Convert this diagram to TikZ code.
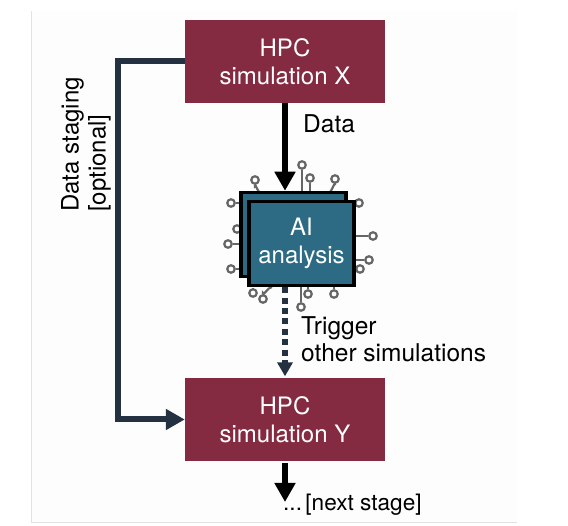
\documentclass[tikz,border=0pt]{standalone}
\usepackage{fontspec}
\setmainfont{TeX Gyre Heros}
\usetikzlibrary{positioning, arrows.meta}
\definecolor{simred}{HTML}{842B41}
\definecolor{chipblue}{HTML}{2C6B83}
\definecolor{navy}{HTML}{233140}
\definecolor{pingray}{HTML}{666666}
\definecolor{panelline}{HTML}{E2E2E2}
\definecolor{panelfill}{HTML}{FDFDFD}
\tikzset{
  simbox/.style = {fill=simred, text=white, minimum width=200pt, minimum height=83pt, align=center, inner sep=0pt},
  chipbox/.style = {draw=black, line width=3.5pt, fill=chipblue, text=white, minimum width=105pt, minimum height=84pt, align=center, inner sep=0pt},
  pinhead/.style = {circle, draw=pingray, line width=2.2pt, fill=white, minimum size=7.5pt, inner sep=0pt},
  pinline/.style = {draw=pingray, line width=2.2pt},
  label/.style = {align=left, inner sep=0pt, anchor=west, font=\fontsize{24.5}{27}\selectfont},
  bigarrow/.style = {line width=6pt, -{Triangle[length=19pt, width=20pt]}},
  stagearrow/.style = {navy, line width=6pt, -{Triangle[length=19pt, width=20pt]}},
  dotarrow/.style = {navy, line width=5.7pt, dash pattern=on 6pt off 4.4pt, shorten >=1.5pt, -{Triangle[length=14pt, width=15pt]}}
}
\begin{document}
\begin{tikzpicture}[x=1pt, y=-1pt, font=\fontsize{24}{28}\selectfont]
  \useasboundingbox (0,0) rectangle (568,526);
  \fill[panelfill] (31,11) rectangle (517,523);
  \draw[panelline, line width=1pt] (31,11) -- (31,523) -- (517,523);

  \node[simbox] (simX) at (285,61.5) {HPC\\simulation X};
  \node[simbox] (simY) at (285,419.5) {HPC\\simulation Y};

  % pins of the chip, drawn before the boxes
  \foreach \i/\px/\py/\qx/\qy in {
      1/302/165/302/200, 2/310/178/310/200, 3/231/203/250/203, 4/237/229/250/229,
      5/228/244/250/244, 6/231/269/250/269, 7/359/203/345/203, 8/373/236/345/236,
      9/369/260/345/260, 10/360/269/345/269, 11/301/307/301/280, 12/308/294/308/280,
      13/334/294/334/280} {
    \node[pinhead] (pin\i) at (\px,\py) {};
    \draw[pinline] (pin\i) -- (\qx,\qy);
  }
  \node[pinhead] (pinA) at (335,179) {};
  \draw[pinline] (pinA) -- (335,185) to[out=90, in=0] (326,195);
  \node[pinhead] (pinB) at (255,180) {};
  \draw[pinline] (pinB) -- (255,186) to[out=90, in=180] (262,194);
  \node[pinhead] (pinC) at (253,293) {};
  \draw[pinline] (pinC) -- (253,288);
  \node[pinhead] (pinD) at (263,299) {};
  \draw[pinline] (pinD) -- (263,293) to[out=-90, in=180] (272,287);

  \node[chipbox] (chipback) at (293.5,234.5) {};
  \node[chipbox] (chip) at (301.5,243.5) {AI\\analysis};

  \draw[bigarrow] (simX.south) -- (simX.south |- chipback.north);
  \draw[dotarrow] (simY.north |- chip.south) -- (simY.north);
  \draw[stagearrow] (simX.west) -- (118,61.5) |- (simY.west);

  \coordinate (nextend) at (285,502);
  \draw[bigarrow] (simY.south) ++(0,2) -- (nextend);

  \node[label] (datalabel) at (303,124) {Data};
  \node[label] (triggerlabel) at (301,339.5) {Trigger\\other simulations};
  \node[label, font=\fontsize{22.6}{27}\selectfont] (nextlabel) at (283,505) {...\hspace{-5pt} [next stage]};
  \node[align=left, inner sep=0pt, rotate=90, anchor=north west, font=\fontsize{24}{27}\selectfont] (staginglabel) at (61,212) {Data staging\\{}[optional]};
\end{tikzpicture}
\end{document}
